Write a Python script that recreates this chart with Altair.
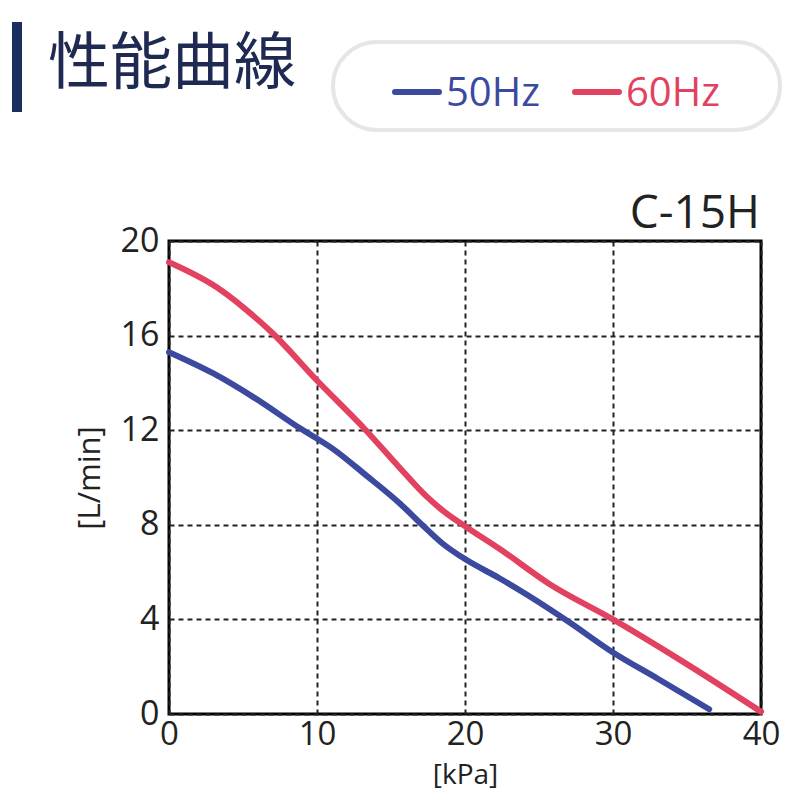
import altair as alt
import pandas as pd

# ---- data ----
kpa_50 = [0, 3, 5.7, 8.8, 11.1, 13.3, 15.6, 17.1, 18.5, 20, 22.3, 24.3, 27, 30, 33, 36.5]
flow_50 = [15.3, 14.4, 13.4, 12.1, 11.2, 10.1, 8.9, 8.0, 7.2, 6.55, 5.75, 5.0, 3.9, 2.6, 1.5, 0.2]
kpa_60 = [0, 3.2, 5.2, 7, 10, 13.3, 15.6, 17.4, 18.7, 20.1, 22.3, 25.7, 30, 34.5, 40]
flow_60 = [19.1, 18.05, 17.1, 16.1, 14.1, 12.0, 10.4, 9.2, 8.5, 7.9, 7.0, 5.5, 4.0, 2.3, 0.1]
series = ["50Hz", "60Hz"]
colors = ["#3b4a9e", "#e2425f"]
x_ticks = [0, 10, 20, 30, 40]
y_ticks = [0, 4, 8, 12, 16, 20]

df = pd.concat([
    pd.DataFrame({"kPa": kpa_50, "flow": flow_50, "series": "50Hz"}),
    pd.DataFrame({"kPa": kpa_60, "flow": flow_60, "series": "60Hz"}),
])

W, H = 592, 473
FONT = "Open Sans"

lines = alt.Chart(df).mark_line(strokeWidth=6, interpolate="monotone", strokeCap="round").encode(
    x=alt.X("kPa:Q", scale=alt.Scale(domain=[0, 40], nice=False),
            axis=alt.Axis(values=x_ticks, title="[kPa]", labelPadding=4, titlePadding=10,
                          labelFontSize=33, titleFontSize=28, labelFlush=False)),
    y=alt.Y("flow:Q", scale=alt.Scale(domain=[0, 20], nice=False),
            axis=alt.Axis(values=y_ticks, title="[L/min]", labelPadding=10, titlePadding=14)),
    color=alt.Color("series:N", scale=alt.Scale(domain=series, range=colors), legend=None),
    detail="series:N",
)

one = alt.Data(values=[{}])

# decorations (title bar, title, legend pill, model name)
bar = alt.Chart(one).mark_rect(color="#1b2f5e").encode(
    x=alt.value(-157), x2=alt.value(-147), y=alt.value(-219), y2=alt.value(-129))
title = alt.Chart(one).mark_text(text="性能曲線", font="Noto Sans CJK JP", fontSize=62,
                                 color="#1f2a52", align="left", baseline="middle").encode(
    x=alt.value(-121), y=alt.value(-176))
pill = alt.Chart(one).mark_rect(fill="white", stroke="#e6e6ea", strokeWidth=4, cornerRadius=44).encode(
    x=alt.value(164), x2=alt.value(611), y=alt.value(-199), y2=alt.value(-111))
leg_line_b = alt.Chart(one).mark_rule(color=colors[0], strokeWidth=6, strokeCap="round").encode(
    x=alt.value(226), x2=alt.value(270), y=alt.value(-149))
leg_text_b = alt.Chart(one).mark_text(text=series[0], font=FONT, fontSize=40, color=colors[0],
                                      align="left", baseline="middle").encode(
    x=alt.value(277), y=alt.value(-147))
leg_line_r = alt.Chart(one).mark_rule(color=colors[1], strokeWidth=6, strokeCap="round").encode(
    x=alt.value(406), x2=alt.value(450), y=alt.value(-149))
leg_text_r = alt.Chart(one).mark_text(text=series[1], font=FONT, fontSize=40, color=colors[1],
                                      align="left", baseline="middle").encode(
    x=alt.value(457), y=alt.value(-147))
model = alt.Chart(one).mark_text(text="C-15H", font=FONT, fontSize=46, color="#222",
                                 align="right", baseline="alphabetic").encode(
    x=alt.value(591), y=alt.value(-13))

chart = alt.layer(
    lines, bar, title, pill, leg_line_b, leg_text_b, leg_line_r, leg_text_r, model
).properties(
    width=W, height=H,
    autosize=alt.AutoSizeParams(type="none"),
    padding={"left": 161, "top": 233, "right": 31, "bottom": 78},
    background="white",
).configure_view(
    stroke="black", strokeWidth=3
).configure_axis(
    grid=True, gridColor="#222", gridDash=[5, 4], gridWidth=2, gridOpacity=1,
    domain=False, ticks=False,
    labelFont=FONT, labelFontSize=34, labelColor="#222",
    titleFont=FONT, titleFontSize=31, titleColor="#222", titleFontWeight="normal",
)

chart.save("out.html", embed_options={"renderer": "svg", "actions": False})
